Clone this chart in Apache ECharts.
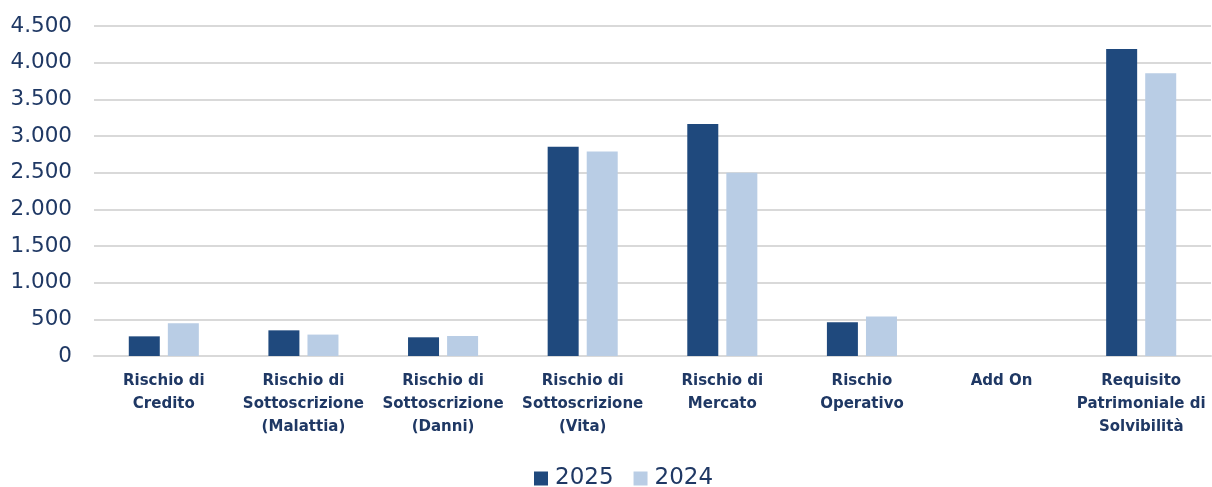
<!DOCTYPE html>
<html>
<head>
<meta charset="utf-8">
<script src="https://cdn.jsdelivr.net/npm/echarts@6/dist/echarts.min.js"></script>
<style>
html,body{margin:0;padding:0;background:#fff;}
#chart{width:1212px;height:487px;}
</style>
</head>
<body>
<div id="chart"></div>
<script>
const categories = [
  "Rischio di\nCredito",
  "Rischio di\nSottoscrizione\n(Malattia)",
  "Rischio di\nSottoscrizione\n(Danni)",
  "Rischio di\nSottoscrizione\n(Vita)",
  "Rischio di\nMercato",
  "Rischio\nOperativo",
  "Add On",
  "Requisito\nPatrimoniale di\nSolvibilità"
];
const series2025 = [268, 350, 255, 2855, 3165, 460, 0, 4185];
const series2024 = [448, 292, 273, 2788, 2500, 537, 0, 3855];
const yTicks = { min: 0, max: 4500, interval: 500 };

const chart = echarts.init(document.getElementById('chart'), null, {renderer: 'canvas'});
const textColor = '#1f3864';
const fmt = v => String(v).replace(/\B(?=(\d{3})+(?!\d))/g, '.');
chart.setOption({
  animation: false,
  backgroundColor: '#ffffff',
  grid: { left: 94, right: 1, top: 26, bottom: 131, containLabel: false },
  legend: {
    data: ['2025', '2024'],
    top: 467,
    left: 534,
    padding: 0,
    itemWidth: 14,
    itemHeight: 14,
    itemGap: 20,
    icon: 'rect',
    textStyle: { color: textColor, fontFamily: 'DejaVu Sans', fontSize: 23, padding: [0, 0, 0, 2] }
  },
  xAxis: {
    type: 'category',
    data: categories,
    axisLine: { show: true, lineStyle: { color: '#d9d9d9', width: 2 } },
    axisTick: { show: false },
    axisLabel: {
      interval: 0,
      margin: 14,
      color: textColor,
      fontFamily: 'DejaVu Sans',
      fontWeight: 'bold',
      fontSize: 15,
      lineHeight: 23,
      align: 'center'
    }
  },
  yAxis: {
    type: 'value',
    min: yTicks.min,
    max: yTicks.max,
    interval: yTicks.interval,
    axisLine: { show: false },
    axisTick: { show: false },
    splitLine: { lineStyle: { color: '#d9d9d9', width: 2 } },
    axisLabel: {
      margin: 22,
      color: textColor,
      fontFamily: 'DejaVu Sans',
      fontSize: 21.5,
      formatter: fmt
    }
  },
  series: [
    { name: '2025', type: 'bar', data: series2025, barWidth: 31, barGap: '26%',
      itemStyle: { color: '#1f497d' } },
    { name: '2024', type: 'bar', data: series2024, barWidth: 31,
      itemStyle: { color: '#b9cde5' } }
  ]
});
</script>
</body>
</html>
